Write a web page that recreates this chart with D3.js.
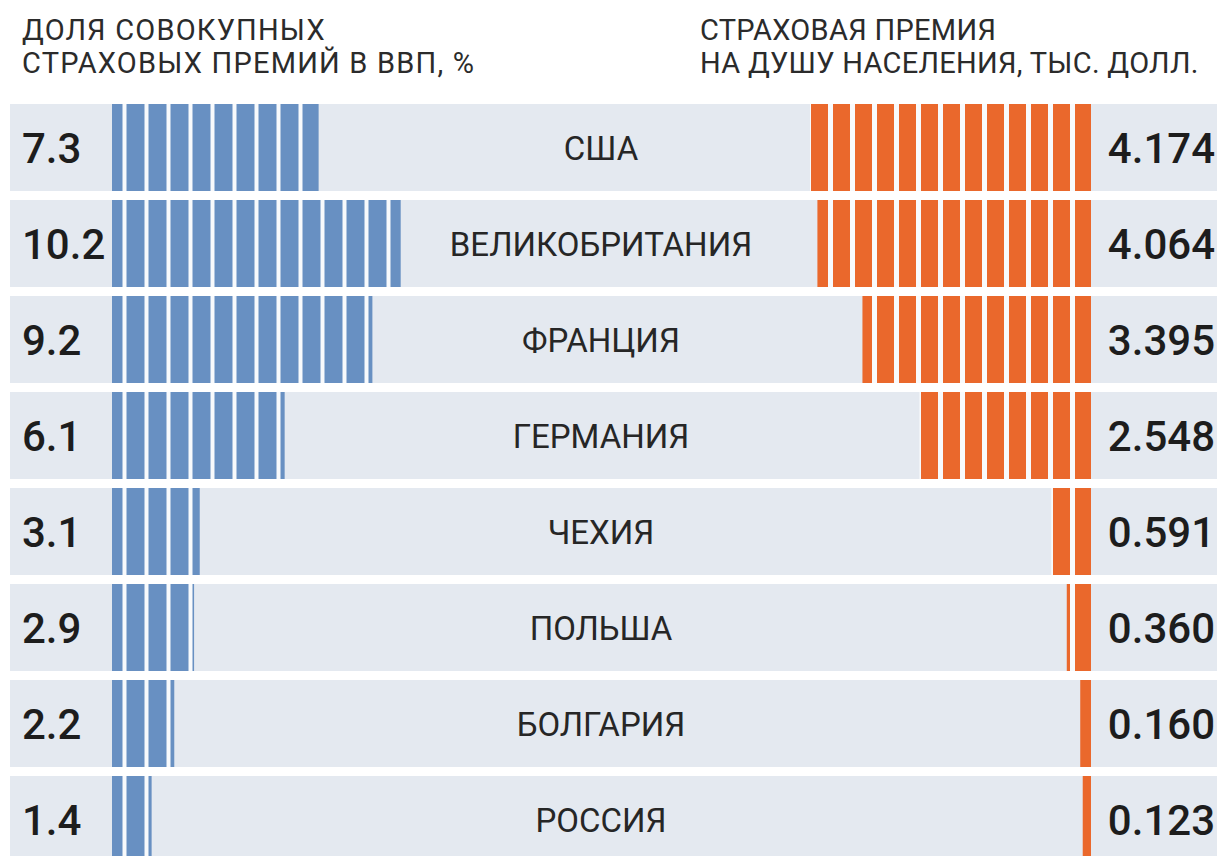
<!DOCTYPE html>
<html>
<head>
<meta charset="utf-8">
<script src="https://cdn.jsdelivr.net/npm/d3@7"></script>
<style>
  body { margin: 0; background: #fff; }
  svg { display: block; font-family: Roboto, "Noto Sans", sans-serif; }
</style>
</head>
<body>
<div id="chart"></div>
<script>
// data
const countries = ["США", "ВЕЛИКОБРИТАНИЯ", "ФРАНЦИЯ", "ГЕРМАНИЯ", "ЧЕХИЯ", "ПОЛЬША", "БОЛГАРИЯ", "РОССИЯ"];
const gdpShare = [7.3, 10.2, 9.2, 6.1, 3.1, 2.9, 2.2, 1.4];
const premiumPerCapita = [4.174, 4.064, 3.395, 2.548, 0.591, 0.360, 0.160, 0.123];
const leftTitle = ["ДОЛЯ СОВОКУПНЫХ", "СТРАХОВЫХ ПРЕМИЙ В ВВП, %"];
const rightTitle = ["СТРАХОВАЯ ПРЕМИЯ", "НА ДУШУ НАСЕЛЕНИЯ, ТЫС. ДОЛЛ."];

const width = 1222, height = 856;
const blue = "#6890c2", orange = "#ea682c", rowBg = "#e4e9f0", gapColor = "#f8fafc";

const rows = countries.map((c, i) => ({ name: c, gdp: gdpShare[i], prem: premiumPerCapita[i] }));

const svg = d3.select("#chart").append("svg")
  .attr("width", width)
  .attr("height", height);

const y = d3.scaleBand()
  .domain(countries)
  .range([104, 863])
  .paddingInner(9 / 96);

const xLeft = d3.scaleLinear().domain([0, 10.2]).range([112, 400.7]);
const xRight = d3.scaleLinear().domain([0, 4.174]).range([1091, 810]);

// striped fills
const defs = svg.append("defs");

const pLeft = defs.append("pattern")
  .attr("id", "stripe-blue")
  .attr("patternUnits", "userSpaceOnUse")
  .attr("x", 104.5).attr("y", 0)
  .attr("width", 22).attr("height", height);
pLeft.append("rect").attr("width", 18).attr("height", height).attr("fill", blue);
pLeft.append("rect").attr("x", 18).attr("width", 4).attr("height", height).attr("fill", gapColor);

const pRight = defs.append("pattern")
  .attr("id", "stripe-orange")
  .attr("patternUnits", "userSpaceOnUse")
  .attr("x", 1070).attr("y", 0)
  .attr("width", 22).attr("height", height);
pRight.append("rect").attr("width", 5).attr("height", height).attr("fill", gapColor);
pRight.append("rect").attr("x", 5).attr("width", 17).attr("height", height).attr("fill", orange);

// headers
function header(lines, x, spacing) {
  const t = svg.append("g").attr("fill", "#2b2b2b").style("font-size", "29px");
  lines.forEach((line, i) => {
    t.append("text")
      .attr("x", x)
      .attr("y", 40 + i * 33)
      .style("letter-spacing", spacing + "px")
      .text(line);
  });
}
header(leftTitle, 22, 1.2);
header(rightTitle, 700, 0.3);

const row = svg.selectAll(".row")
  .data(rows)
  .enter()
  .append("g")
  .attr("class", "row")
  .attr("transform", d => `translate(0,${y(d.name)})`);

row.append("rect")
  .attr("x", 10)
  .attr("width", 1207)
  .attr("height", y.bandwidth())
  .attr("fill", rowBg);

row.append("rect")
  .attr("x", xLeft(0))
  .attr("width", d => xLeft(d.gdp) - xLeft(0))
  .attr("height", y.bandwidth())
  .attr("fill", "url(#stripe-blue)");

row.append("rect")
  .attr("x", d => xRight(d.prem))
  .attr("width", d => xRight(0) - xRight(d.prem))
  .attr("height", y.bandwidth())
  .attr("fill", "url(#stripe-orange)");

const mid = y.bandwidth() / 2;

row.append("text")
  .attr("x", 22)
  .attr("y", mid + 15)
  .style("font-size", "42px")
  .style("font-weight", 500)
  .attr("fill", "#1d1d1d")
  .text(d => d3.format(".1f")(d.gdp));

row.append("text")
  .attr("x", 1215)
  .attr("y", mid + 15)
  .attr("text-anchor", "end")
  .style("font-size", "42px")
  .style("font-weight", 500)
  .attr("fill", "#1d1d1d")
  .text(d => d3.format(".3f")(d.prem));

row.append("text")
  .attr("x", 601)
  .attr("y", mid + 12)
  .attr("text-anchor", "middle")
  .style("font-size", "33px")
  .attr("fill", "#262626")
  .text(d => d.name);
</script>
</body>
</html>
